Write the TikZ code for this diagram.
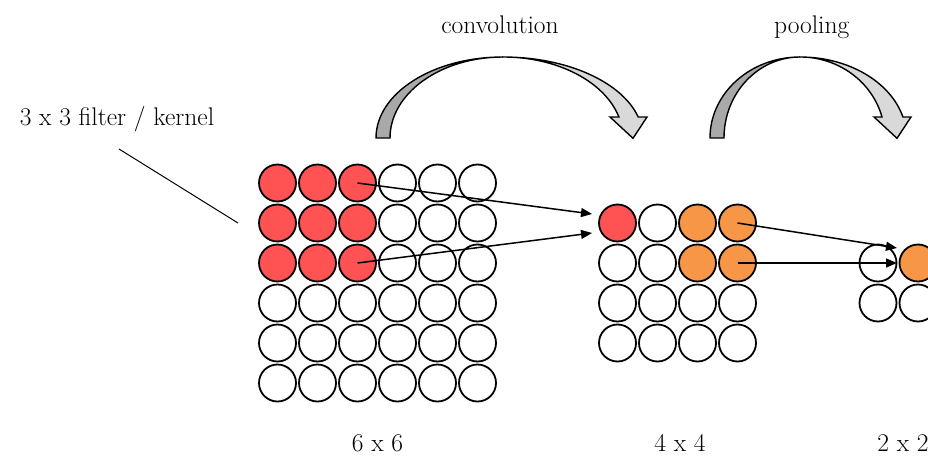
\documentclass[tikz,border=0pt]{standalone}
\usepackage{fontspec}
\usetikzlibrary{arrows.meta}
\definecolor{kred}{HTML}{FF5252}
\definecolor{korange}{HTML}{F79646}
\definecolor{ribbondark}{HTML}{A9A9A9}
\definecolor{ribbonlight}{HTML}{D9D9D9}
\begin{document}
\begin{tikzpicture}[x=1pt,y=1pt,
  cell/.style={circle,draw=black,line width=1.8pt,minimum size=37pt,inner sep=0pt,fill=white},
  conn/.style={line width=1.5pt,-{Triangle[length=11pt,width=9pt]}},
  ribbon/.style={draw=black,line width=1.4pt,line join=miter},
  lbl/.style={font=\fontsize{25.5}{30}\selectfont\addfontfeatures{FakeBold=0.6},inner sep=0pt,anchor=base}]
\clip (0,0) rectangle (928,-455);
\fill[white] (0,0) rectangle (928,-455);

% curved arrow over the convolution step
\path[ribbon,fill=ribbondark] (376,-138)
  arc[start angle=180,end angle=90,x radius=127,y radius=81]
  arc[start angle=90,end angle=180,x radius=113,y radius=81] -- cycle;
\path[ribbon,fill=ribbonlight] (503,-57)
  arc[start angle=90,end angle=15,x radius=140,y radius=81]
  -- (647,-117) -- (633,-138.3) -- (610,-117) -- (618.9,-117)
  arc[start angle=15,end angle=90,x radius=120,y radius=81] -- cycle;

% curved arrow over the pooling step
\path[ribbon,fill=ribbondark] (710,-138)
  arc[start angle=180,end angle=90,x radius=90,y radius=81]
  arc[start angle=90,end angle=180,x radius=76,y radius=81] -- cycle;
\path[ribbon,fill=ribbonlight] (800,-57)
  arc[start angle=90,end angle=15,x radius=106.6,y radius=81]
  -- (911,-117) -- (897,-138.3) -- (874,-117) -- (882,-117)
  arc[start angle=15,end angle=90,x radius=84.9,y radius=81] -- cycle;

% captions
\node[lbl] (tconv) at (500,-33) {convolution};
\node[lbl] (tpool) at (811.7,-33) {pooling};
\node[lbl] (tkern) at (117,-125) {3 x 3 filter / kernel};
\node[lbl] (t6) at (377.5,-451.7) {6 x 6};
\node[lbl] (t4) at (680,-451.7) {4 x 4};
\node[lbl] (t2) at (903,-451.7) {2 x 2};

% input 6 x 6 with the 3 x 3 kernel in red
\foreach \r in {1,...,6}{\foreach \c in {1,...,6}{
  \def\cellfill{white}
  \ifnum\r<4 \ifnum\c<4 \def\cellfill{kred}\fi\fi
  \node[cell,fill=\cellfill] (a\r\c) at ({237.5+40*\c},{-143-40*\r}) {};
}}

% feature map 4 x 4
\foreach \r in {1,...,4}{\foreach \c in {1,...,4}{
  \def\cellfill{white}
  \ifnum\r<3 \ifnum\c>2 \def\cellfill{korange}\fi\fi
  \ifnum\r=1 \ifnum\c=1 \def\cellfill{kred}\fi\fi
  \node[cell,fill=\cellfill] (b\r\c) at ({577.5+40*\c},{-183-40*\r}) {};
}}

% pooled 2 x 2
\foreach \r in {1,2}{\foreach \c in {1,2}{
  \def\cellfill{white}
  \ifnum\r=1 \ifnum\c=2 \def\cellfill{korange}\fi\fi
  \node[cell,fill=\cellfill] (c\r\c) at ({838+40*\c},{-223-40*\r}) {};
}}

% pointer from the kernel caption
\coordinate (k1) at (119,-149);
\coordinate (k2) at (238,-223);
\draw[line width=1pt] (k1) -- (k2);

% connectors
\coordinate (e1) at (592,-214);
\coordinate (e2) at (592,-233);
\coordinate (e3) at (897,-248);
\coordinate (e4) at (897,-263);
\draw[conn] (a13.center) -- (e1);
\draw[conn] (a33.center) -- (e2);
\draw[conn] (b14.center) -- (e3);
\draw[conn] (b24.center) -- (e4);
\end{tikzpicture}
\end{document}
